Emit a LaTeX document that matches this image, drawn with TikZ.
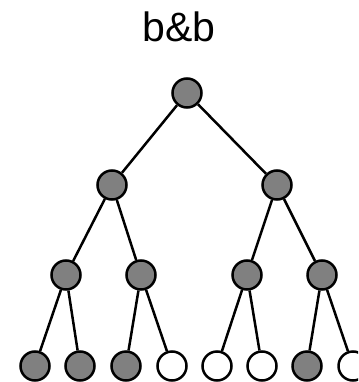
\documentclass[tikz,border=0pt]{standalone}
\usepackage{fontspec}
\setmainfont{Liberation Sans}
\usepackage{tikz}

\tikzset{
    full/.style={circle, draw=black, fill=gray, line width=2.5pt, minimum size=29pt, inner sep=0pt},
    empty/.style={circle, draw=black, fill=white, line width=2.5pt, minimum size=29pt, inner sep=0pt},
    edge/.style={line width=2.5pt}
}

\begin{document}
\begin{tikzpicture}[x=1pt, y=-1pt]
        \useasboundingbox (0,0) rectangle (358,382);
        \clip (0,0) rectangle (358,382);
        \node[anchor=base, font=\fontsize{41}{41}\selectfont] (title) at (179,42) {b\&b};
        % levels of the tree
        \node[full] (n1) at (187,93) {};
        \node[full] (n2) at (112,185) {};
        \node[full] (n3) at (277,185) {};
        \node[full] (n4) at (66,275) {};
        \node[full] (n5) at (141,275) {};
        \node[full] (n6) at (247,275) {};
        \node[full] (n7) at (322,275) {};
        \node[full] (n8) at (35,366) {};
        \node[full] (n9) at (80,366) {};
        \node[full] (n10) at (126,366) {};
        \node[empty] (n11) at (172,366) {};
        \node[empty] (n12) at (217,366) {};
        \node[empty] (n13) at (262,366) {};
        \node[full] (n14) at (307,366) {};
        \node[empty] (n15) at (353,366) {};
        \foreach \p/\c in {1/2,1/3,2/4,2/5,3/6,3/7,4/8,4/9,5/10,5/11,6/12,6/13,7/14,7/15}
            \draw[edge] (n\p) -- (n\c);
\end{tikzpicture}
\end{document}
